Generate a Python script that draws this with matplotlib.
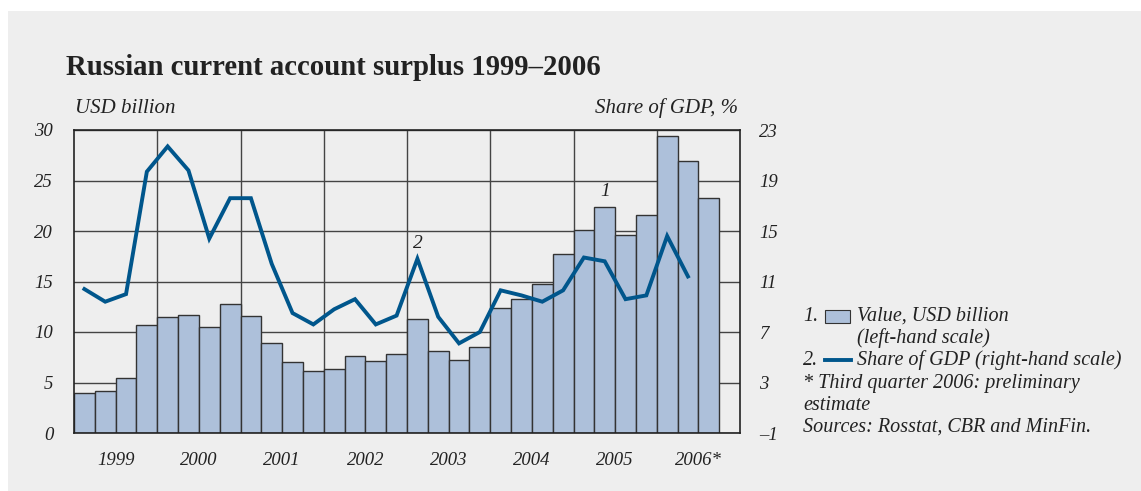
import numpy as np
from matplotlib import pyplot as plt
from matplotlib.patches import Rectangle
from matplotlib.lines import Line2D

# Quarterly data, 1999Q1 - 2006Q3
years = ['1999', '2000', '2001', '2002', '2003', '2004', '2005', '2006*']
value_usd = [4.0, 4.2, 5.4, 10.7, 11.5, 11.7, 10.5, 12.8,
             11.6, 8.9, 7.0, 6.1, 6.3, 7.6, 7.1, 7.8,
             11.3, 8.1, 7.2, 8.5, 12.4, 13.3, 14.8, 17.7,
             20.1, 22.4, 19.6, 21.6, 29.4, 26.9, 23.3]
share_gdp = [10.4, 9.4, 10.0, 19.7, 21.7, 19.8, 14.4, 17.6,
             17.6, 12.4, 8.5, 7.6, 8.8, 9.6, 7.6, 8.3,
             12.8, 8.2, 6.1, 7.0, 10.3, 9.9, 9.4, 10.3,
             12.9, 12.6, 9.6, 9.9, 14.6, 11.4]

W, H = 1141, 491
bg = '#eeeeee'
bar_color = '#adc0da'
line_color = '#00568c'
serif = ['Liberation Serif', 'DejaVu Serif']
plt.rcParams['font.family'] = serif

def px(x, y):
    return x / W, 1 - y / H

fig = plt.figure(figsize=(W / 100, H / 100), dpi=100, facecolor='white')
fig.add_artist(Rectangle(px(8, H), (W - 8) / W, (H - 11) / H,
                         transform=fig.transFigure, facecolor=bg, edgecolor='none', zorder=0))

ax = fig.add_axes([74 / W, 1 - 433 / H, (740 - 74) / W, (433 - 130) / H])
ax.set_facecolor(bg)
x = np.arange(len(value_usd))
ax.bar(x, value_usd, width=1.0, color=bar_color, edgecolor='#333333', linewidth=1.0, zorder=2)
ax.set_xlim(-0.5, 31.5)
ax.set_ylim(0, 30)
ax.set_yticks(np.arange(0, 31, 5))
ax.set_xticks(np.arange(3.5, 31, 4))
ax.set_xticklabels([])
ax.set_xticks(np.arange(1.5, 32, 4), minor=True)
ax.set_xticklabels(years, minor=True)
ax.tick_params(axis='both', which='both', length=0)
ax.tick_params(axis='x', which='minor', pad=14, labelsize=13.5)
ax.tick_params(axis='y', pad=15, labelsize=13.5)
for lab in ax.get_xticklabels(minor=True) + ax.get_yticklabels():
    lab.set_fontstyle('italic')
    lab.set_color('#222222')
ax.grid(True, which='major', color='#444444', linewidth=1.0)
ax.set_axisbelow(True)
for s in ax.spines.values():
    s.set_color('#222222')
    s.set_linewidth(1.2)
ax.annotate('1', (25, value_usd[25]), xytext=(0, 5), textcoords='offset points',
            ha='center', va='bottom', fontsize=14, style='italic', color='#222222')

ax2 = ax.twinx()
ax2.plot(np.arange(len(share_gdp)), share_gdp, color=line_color, linewidth=2.8,
         solid_joinstyle='miter', zorder=3)
ax2.set_ylim(-1, 23)
ax2.set_yticks(np.arange(-1, 24, 4))
ax2.set_yticklabels(['\u20131'] + [str(v) for v in range(3, 24, 4)])
ax2.tick_params(axis='y', length=0, pad=14, labelsize=13.5)
for lab in ax2.get_yticklabels():
    lab.set_fontstyle('italic')
    lab.set_color('#222222')
for s in ax2.spines.values():
    s.set_visible(False)
ax2.annotate('2', (16, share_gdp[16]), xytext=(0, 5), textcoords='offset points',
             ha='center', va='bottom', fontsize=14, style='italic', color='#222222')

# titles
fig.text(*px(66, 75), 'Russian current account surplus 1999\u20132006',
         fontsize=20.7, fontweight='bold', color='#222222', ha='left', va='baseline')
fig.text(*px(75, 113), 'USD billion', fontsize=15, style='italic', color='#222222',
         ha='left', va='baseline')
fig.text(*px(738, 113), 'Share of GDP, %', fontsize=15, style='italic', color='#222222',
         ha='right', va='baseline')

# legend
tkw = dict(fontsize=14.5, style='italic', color='#222222', ha='left', va='baseline')
fig.text(*px(803, 321), '1.', **tkw)
fig.add_artist(Rectangle(px(825, 323), 25 / W, 13 / H, transform=fig.transFigure,
                         facecolor=bar_color, edgecolor='#333333', linewidth=0.8))
fig.text(*px(857, 321), 'Value, USD billion', **tkw)
fig.text(*px(857, 343), '(left-hand scale)', **tkw)
fig.text(*px(803, 365), '2.', **tkw)
fig.add_artist(Line2D([825 / W, 851 / W], [1 - 360 / H, 1 - 360 / H],
                      transform=fig.transFigure, color=line_color, linewidth=2.8))
fig.text(*px(857, 365), 'Share of GDP (right-hand scale)', **tkw)
fig.text(*px(803, 388), '* Third quarter 2006: preliminary', **tkw)
fig.text(*px(803, 410), 'estimate', **tkw)
fig.text(*px(803, 432), 'Sources: Rosstat, CBR and MinFin.', **tkw)

plt.savefig('out.png', dpi=100, facecolor='white')
